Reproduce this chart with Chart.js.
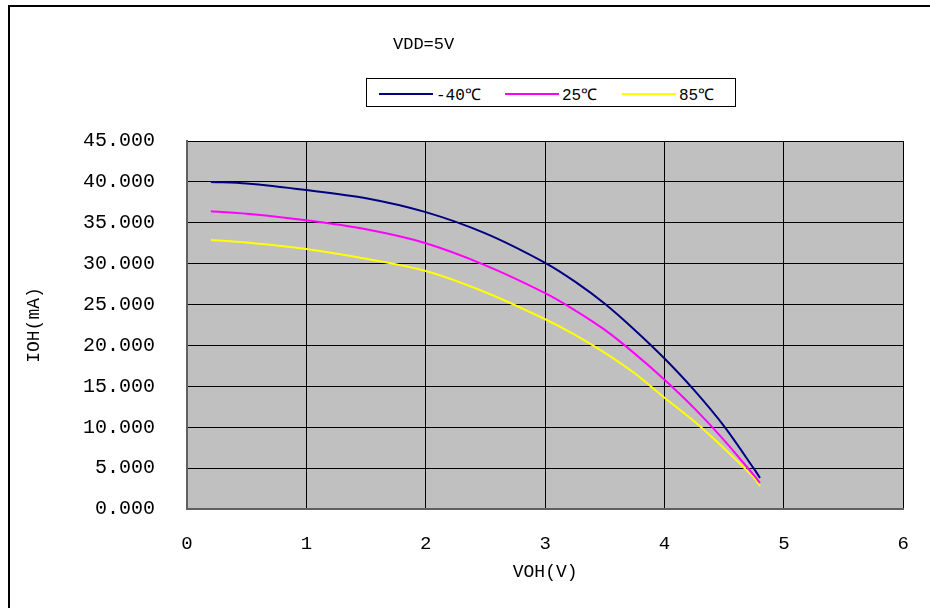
<!DOCTYPE html>
<html>
<head>
<meta charset="utf-8">
<script src="https://cdn.jsdelivr.net/npm/chart.js@4"></script>
<style>
    html, body { margin: 0; padding: 0; background: #fff; overflow: hidden; }
    #wrap { position: relative; width: 930px; height: 608px; overflow: hidden; }
    #frame { position: absolute; left: 8px; top: 5px; width: 1000px; height: 1000px; border: 2px solid #000; box-sizing: border-box; }
    #title { position: absolute; left: 393px; top: 35px; font: 17px "Liberation Mono", monospace; color: #000; }
    #legend { position: absolute; left: 366px; top: 78px; width: 370px; height: 29px; border: 1px solid #000; box-sizing: border-box; background: #fff; font: 16px "Liberation Mono", monospace; }
    .item { display: flex; align-items: center; position: absolute; top: 4px; }
    .swatch { display: inline-block; width: 54px; height: 2px; margin-right: 3px; }
    canvas { position: absolute; left: 0; top: 0; }
</style>
</head>
<body>
<div id="wrap">
    <div id="frame"></div>
    <canvas id="chart" width="933" height="608"></canvas>
    <div id="title">VDD=5V</div>
    <div id="legend"></div>
</div>
<script>
// Data
const voh = [0.2, 0.5, 1.0, 1.5, 2.0, 2.5, 3.0, 3.25, 3.5, 3.75, 4.0, 4.25, 4.5, 4.75, 4.8];
const iohM40 = [40.0, 39.8, 39.0, 38.0, 36.3, 33.7, 30.1, 27.8, 25.1, 21.9, 18.4, 14.5, 10.1, 4.9, 3.8];
const ioh25 = [36.4, 36.1, 35.3, 34.2, 32.5, 29.8, 26.4, 24.3, 21.9, 19.0, 15.8, 12.3, 8.4, 4.1, 3.2];
const ioh85 = [32.9, 32.6, 31.8, 30.6, 29.1, 26.5, 23.2, 21.3, 19.1, 16.6, 13.6, 10.7, 7.4, 3.8, 2.8];

const seriesLabels = ['-40℃', '25℃', '85℃'];
const seriesColors = ['#000080', '#ff00ff', '#ffff00'];
const seriesValues = [iohM40, ioh25, ioh85];

const legendX = [12, 138, 255];

// Gray plot background
const plotBg = {
    id: 'plotBg',
    beforeDraw(chart) {
        const { ctx, chartArea: a } = chart;
        ctx.save();
        ctx.fillStyle = '#c0c0c0';
        ctx.fillRect(a.left, a.top, a.right - a.left, a.bottom - a.top);
        ctx.restore();
    }
};

const datasets = seriesValues.map((vals, i) => ({
    label: seriesLabels[i],
    data: vals.map((y, j) => ({ x: voh[j], y: y })),
    borderColor: seriesColors[i],
    backgroundColor: seriesColors[i],
    borderWidth: 2,
    pointRadius: 0,
    tension: 0.3,
    fill: false
}));

const chart = new Chart(document.getElementById('chart'), {
    type: 'line',
    data: { datasets },
    options: {
        responsive: false,
        animation: false,
        layout: { padding: { top: 141, right: 21, left: 0, bottom: 0 } },
        plugins: {
            legend: { display: false },
            title: { display: false },
            tooltip: { enabled: false }
        },
        scales: {
            x: {
                type: 'linear',
                min: 0,
                max: 6,
                afterFit: s => { s.height = 99; },
                ticks: {
                    stepSize: 1,
                    padding: 24,
                    color: '#000',
                    font: { family: 'Liberation Mono', size: 19 }
                },
                grid: { color: '#000', lineWidth: 1, drawTicks: false },
                border: { color: '#606060', width: 2 },
                title: {
                    display: true,
                    text: 'VOH(V)',
                    color: '#000',
                    font: { family: 'Liberation Mono', size: 18 },
                    padding: { top: 0, bottom: 25 }
                }
            },
            y: {
                min: 0,
                max: 45,
                afterFit: s => { s.width = 187; },
                ticks: {
                    stepSize: 5,
                    padding: 32,
                    color: '#000',
                    font: { family: 'Liberation Mono', size: 20 },
                    callback: v => v.toFixed(3)
                },
                grid: { color: '#000', lineWidth: 1, drawTicks: false },
                border: { color: '#606060', width: 2 },
                title: {
                    display: true,
                    text: 'IOH(mA)',
                    color: '#000',
                    font: { family: 'Liberation Mono', size: 18 },
                    padding: { top: 23, bottom: 0 }
                }
            }
        }
    },
    plugins: [plotBg]
});

// Legend from the datasets
const legend = document.getElementById('legend');
chart.data.datasets.forEach((ds, i) => {
    const item = document.createElement('div');
    item.className = 'item';
    item.style.left = legendX[i] + 'px';
    item.innerHTML = `<span class="swatch" style="background:${ds.borderColor}"></span><span>${ds.label}</span>`;
    legend.appendChild(item);
});
</script>
</body>
</html>
